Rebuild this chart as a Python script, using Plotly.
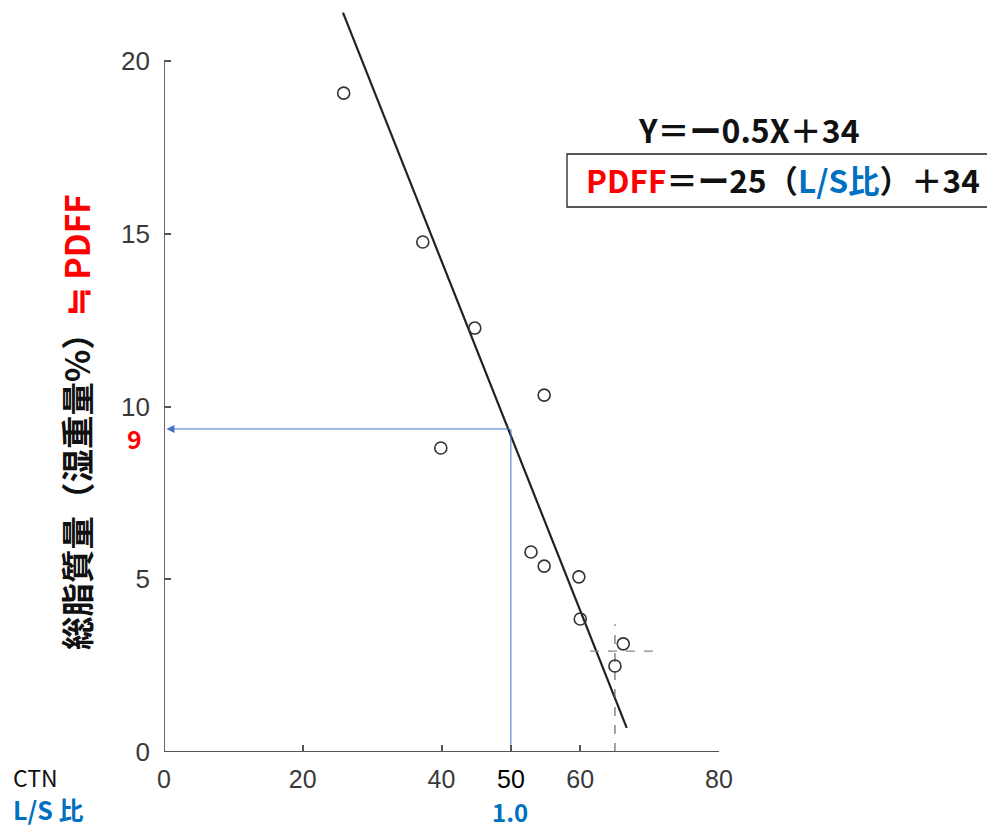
import plotly.graph_objects as go

# Data
ctn = [25.9, 37.3, 44.8, 54.8, 39.9, 52.9, 54.8, 59.8, 60.0, 66.2, 65.0]
fat = [19.07, 14.76, 12.27, 10.33, 8.80, 5.79, 5.38, 5.07, 3.85, 3.13, 2.49]

fit_x = [25.8, 66.7]
fit_y = [21.4, 0.7]

guide_x = 50      # CTN 50 (L/S 1.0)
guide_y = 9.35    # PDFF ~9

cross_v_x = [65.0, 65.0]
cross_v_y = [0.0, 3.7]
cross_h_x = [61.4, 71.8]
cross_h_y = [2.92, 2.92]

x_ticks = [0, 20, 40, 50, 60, 80]
x_tick_text = ["0", "20", "40", "<span style='color:#000000'>50</span>", "60", "80"]
y_ticks = [0, 5, 10, 15, 20]
y_tick_text = ["0", "5", "10", "15", "20"]

W, H = 995, 828
OFF = 8  # page body offset
# plot area in reference pixels: x 164..719, y 10..752
PX0, PX1, PY0, PY1 = 164, 719, 10, 752
L = PX0 - OFF
R = W - (PX1 - OFF)
T = PY0 - OFF
B = H - (PY1 - OFF)
Y_TOP = (752 - 10) / 34.55

pw, ph = PX1 - PX0, PY1 - PY0


def px(xp):
    return (xp - PX0) / pw


def py(yp):
    return (PY1 - yp) / ph


fig = go.Figure()

fig.add_trace(go.Scatter(x=fit_x, y=fit_y, mode="lines",
                         line=dict(color="#222222", width=2.2), showlegend=False))
fig.add_trace(go.Scatter(x=cross_v_x, y=cross_v_y, mode="lines",
                         line=dict(color="#666666", width=1.2, dash="dash"), showlegend=False))
fig.add_trace(go.Scatter(x=cross_h_x, y=cross_h_y, mode="lines",
                         line=dict(color="#888888", width=1.2, dash="dash"), showlegend=False))
fig.add_trace(go.Scatter(x=[guide_x, guide_x], y=[0, guide_y], mode="lines",
                         line=dict(color="#4472C4", width=1), showlegend=False))
fig.add_trace(go.Scatter(x=ctn, y=fat, mode="markers",
                         marker=dict(symbol="circle-open", size=12,
                                     color="#333333", line=dict(width=1.6)),
                         showlegend=False, cliponaxis=False))

fig.add_annotation(x=0.35, y=guide_y, ax=guide_x, ay=guide_y,
                   xref="x", yref="y", axref="x", ayref="y",
                   text="", showarrow=True, arrowhead=2, arrowsize=1.6,
                   arrowwidth=1, arrowcolor="#4472C4")

fig.add_shape(type="line", x0=0, y0=0, x1=0, y1=20, xref="x", yref="y",
              line=dict(color="#555555", width=1.8))
fig.add_shape(type="line", x0=0, y0=0, x1=80, y1=0, xref="x", yref="y",
              line=dict(color="#555555", width=1.8))

cjk = "Noto Sans CJK JP"


def label(xp, yp, text, size, color="#111111", xanchor="center", angle=0):
    fig.add_annotation(x=px(xp), y=py(yp), xref="paper", yref="paper", text=text,
                       showarrow=False, xanchor=xanchor, yanchor="middle",
                       textangle=angle, font=dict(family=cjk, size=size, color=color))


label(749, 129, "<b>Y＝ー0.5X＋34</b>", 32)
label(783, 179, "<b><span style='color:#FF0000'>PDFF</span>＝ー25（<span style='color:#0070C0'>L/S比</span>）＋34</b>", 31.5)
fig.add_shape(type="rect", x0=px(567), x1=px(990), y0=py(207), y1=py(154),
              xref="paper", yref="paper", line=dict(color="#222222", width=1.3))

label(75, 422, "<b>総脂質量（湿重量%）<span style='color:#FF0000'>≒ PDFF</span></b>", 33.5, angle=-90)

label(134, 438, "<b>9</b>", 25, color="#FF0000")
label(11, 777, "CTN", 23, xanchor="left")
label(11, 809, "<b>L/S 比</b>", 25, color="#0070C0", xanchor="left")
label(510, 811, "<b>1.0</b>", 24, color="#0070C0")

fig.update_layout(
    width=W, height=H,
    margin=dict(l=L, r=R, t=T, b=B, autoexpand=False),
    plot_bgcolor="white", paper_bgcolor="white",
    xaxis=dict(range=[0, 80], tickvals=x_ticks, ticktext=x_tick_text,
               showgrid=False, zeroline=False, showline=False,
               ticks="inside", ticklen=7, tickcolor="#555555", tickwidth=1.5,
               ticklabelstandoff=10,
               tickfont=dict(family="Liberation Sans", size=25, color="#3a3a3a")),
    yaxis=dict(range=[0, Y_TOP], tickvals=y_ticks, ticktext=y_tick_text,
               showgrid=False, zeroline=False, showline=False,
               ticks="inside", ticklen=7, tickcolor="#555555", tickwidth=1.5,
               ticklabelstandoff=13,
               tickfont=dict(family="Liberation Sans", size=26, color="#3a3a3a")),
)

fig.write_html("out.html")
